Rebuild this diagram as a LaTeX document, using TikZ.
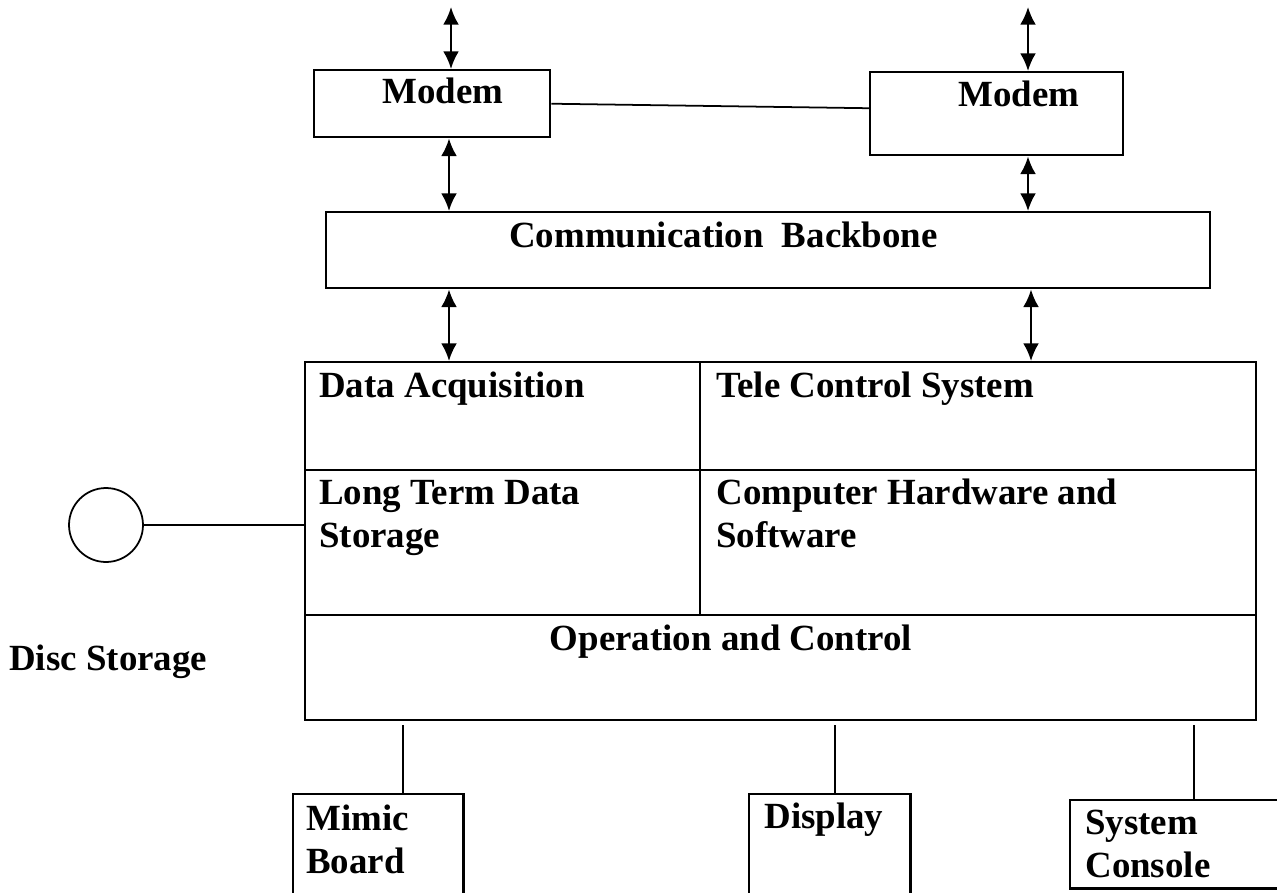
\documentclass[tikz,border=0pt]{standalone}
\usepackage{fontspec}
\setmainfont{Liberation Serif}
\usetikzlibrary{arrows.meta}
\tikzstyle{box} = [rectangle, draw = black, line width=1.4pt, anchor=north west, inner sep=0pt]
\tikzstyle{openbox} = [rectangle, anchor=north west, inner sep=0pt]
\tikzstyle{txt} = [anchor=base west, inner sep=0pt, align=left, font=\fontsize{21}{24.4}\selectfont\bfseries]
\tikzstyle{arrow} = [<->, >={Latex[length=10pt,width=9pt]}, line width=1.3pt]
\tikzstyle{link} = [line width=1pt]
\tikzstyle{edge} = [line width=1.4pt]

\begin{document}
\begin{tikzpicture}[x=0.02cm, y=-0.02cm]
	\useasboundingbox (0,0) rectangle (1277,892);
	\node (modemL) [box, minimum width=4.72cm, minimum height=1.34cm] at (313,69) {};
	\node (modemR) [box, minimum width=5.06cm, minimum height=1.66cm] at (869,71) {};
	\node (comm) [box, minimum width=17.68cm, minimum height=1.52cm] at (325,211) {};
	\node (dacq) [box, minimum width=7.90cm, minimum height=2.16cm] at (304,361) {};
	\node (tele) [box, minimum width=11.12cm, minimum height=2.16cm] at (699,361) {};
	\node (ltds) [box, minimum width=7.90cm, minimum height=2.90cm] at (304,469) {};
	\node (comp) [box, minimum width=11.12cm, minimum height=2.90cm] at (699,469) {};
	\node (opctl) [box, minimum width=19.02cm, minimum height=2.10cm] at (304,614) {};
	\node (disc) [circle, draw = black, line width=1pt, minimum size=1.48cm, inner sep=0pt] at (106,525) {};
	\node (mimic) [openbox, minimum width=3.40cm, minimum height=1.96cm] at (293,794) {};
	\node (disp) [openbox, minimum width=3.22cm, minimum height=1.96cm] at (749,794) {};
	\node (sysc) [openbox, minimum width=4.14cm, minimum height=1.76cm] at (1070,800) {};
	\draw [edge](mimic.south west) -- (mimic.north west) -- (mimic.north east) -- (mimic.south east);
	\draw [edge](disp.south west) -- (disp.north west) -- (disp.north east) -- (disp.south east);
	\draw [edge](sysc.north east) -- (sysc.north west) -- (sysc.south west) -- (sysc.south east);

	\node (tModemL) [txt] at (382,104) {Modem};
	\node (tModemR) [txt] at (958,107) {Modem};
	\node (tComm) [txt] at (509,247) {Communication\ \ Backbone};
	\node (tDacq) [txt] at (319,397) {Data Acquisition};
	\node (tTele) [txt] at (716,397) {Tele Control System};
	\node (tLtds) [txt] at (319,547) {Long Term Data\\Storage};
	\node (tComp) [txt] at (716,547) {Computer Hardware and\\Software};
	\node (tOpctl) [txt, anchor=base] at (731,650) {Operation and Control};
	\node (tDisc) [txt] at (9,670) {Disc Storage};
	\node (tMimic) [txt] at (306,873) {Mimic\\Board};
	\node (tDisp) [txt] at (764,828) {Display};
	\node (tSysc) [txt] at (1085,877) {System\\Console};

	\coordinate (netL) at (451,7);
	\coordinate (netR) at (1028,7);
	\coordinate (colL) at (449,0);
	\coordinate (colR) at (1028,0);
	\coordinate (colS) at (1031,0);
	\coordinate (dropA) at (403,725);
	\coordinate (dropB) at (835,725);
	\coordinate (dropC) at (1194,725);

	\draw [arrow](netL) -- (netL |- modemL.north);
	\draw [arrow](netR) -- (netR |- modemR.north);
	\draw [link](modemL.east) -- ([yshift=0.11cm]modemR.west);
	\draw [arrow](colL |- modemL.south) -- (colL |- comm.north);
	\draw [arrow](colR |- modemR.south) -- (colR |- comm.north);
	\draw [arrow](colL |- comm.south) -- (colL |- dacq.north);
	\draw [arrow](colS |- comm.south) -- (colS |- tele.north);
	\draw [link](disc.east) -- (disc.east -| ltds.west);
	\draw [link](dropA) -- (dropA |- mimic.north);
	\draw [link](dropB) -- (dropB |- disp.north);
	\draw [link](dropC) -- (dropC |- sysc.north);
\end{tikzpicture}
\end{document}
